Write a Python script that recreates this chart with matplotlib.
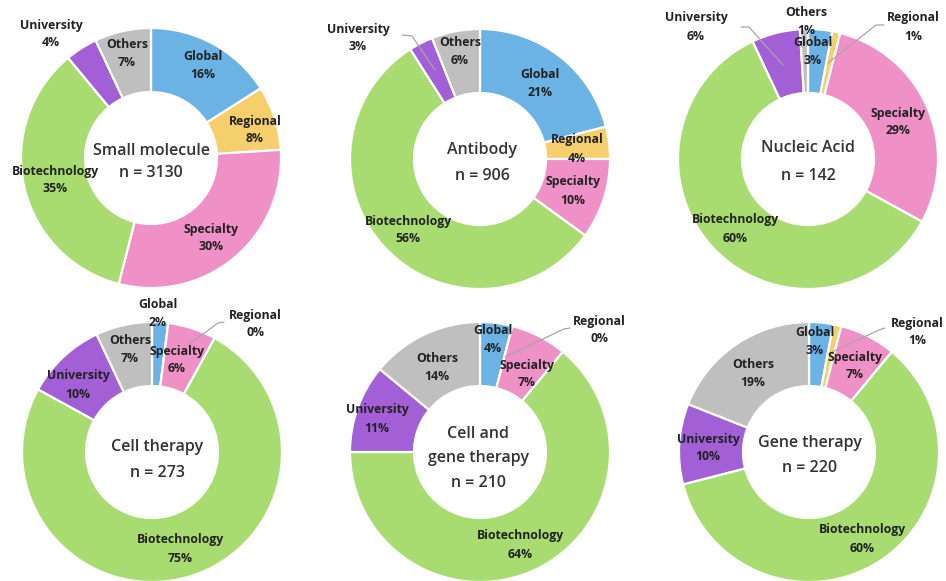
import numpy as np
import matplotlib
matplotlib.use("Agg")
import matplotlib.pyplot as plt

# ---- data -------------------------------------------------------------
categories = ["Global", "Regional", "Specialty", "Biotechnology", "University", "Others"]
colors = ["#6cb3e5", "#f4cf6b", "#ef91c6", "#a8dc70", "#a25fd6", "#bfbfbf"]

titles = ["Small molecule", "Antibody", "Nucleic Acid",
          "Cell therapy", "Cell and\ngene therapy", "Gene therapy"]
counts = [3130, 906, 142, 273, 210, 220]

small_molecule = [16, 8, 30, 35, 4, 7]
antibody = [21, 4, 10, 56, 3, 6]
nucleic_acid = [3, 1, 29, 60, 6, 1]
cell_therapy = [2, 0, 6, 75, 10, 7]
cell_gene_therapy = [4, 0, 7, 64, 11, 14]
gene_therapy = [3, 1, 7, 60, 10, 19]

shares = [small_molecule, antibody, nucleic_acid,
          cell_therapy, cell_gene_therapy, gene_therapy]

# ---- layout (pixel coordinates, origin top-left) ----------------------
W, H = 946, 581
centers = [(151, 158), (480, 159), (808, 159),
           (152, 452), (480, 452), (809, 452)]
R_OUT, RING = 130, 64
title_y = [(151, 173), (150, 176), (148, 176),
           (447, 473), (434, 458, 483), (443, 468)]
title_x = [151, 482, 808, 157, 478, 810]

# label block centres per chart, in category order
label_pos = [
    [(203, 66), (255, 130), (211, 238), (55, 180), (51, 34), (127, 53)],
    [(540, 84), (577, 149), (573, 191), (408, 230), (358, 38), (460, 52)],
    [(813, 52), (913, 27), (898, 122), (735, 229), (696, 27), (806, 22)],
    [(158, 314), (255, 324), (177, 360), (180, 549), (78, 385), (130, 350)],
    [(493, 340), (599, 330), (527, 374), (520, 545), (377, 419), (437, 367)],
    [(815, 342), (917, 332), (855, 366), (862, 539), (708, 448), (753, 374)],
]

# leader lines: (chart, [points])
leaders = [
    (1, [(402, 35), (412, 36), (435, 70)]),
    (2, [(741, 27), (749, 27), (783, 65)]),
    (2, [(884, 25), (876, 25), (828, 63)]),
    (3, [(224, 322), (218, 323), (188, 345)]),
    (4, [(570, 328), (564, 329), (505, 357)]),
    (5, [(885, 328), (879, 330), (832, 352)]),
]

plt.rcParams["font.family"] = ["Open Sans", "DejaVu Sans"]
TEXT = "#222222"

fig = plt.figure(figsize=(W / 100, H / 100), dpi=100)
ax = fig.add_axes([0, 0, 1, 1])

for i, vals in enumerate(shares):
    cx, cy = centers[i]
    ax.pie(vals, colors=colors, startangle=90, counterclock=False,
           radius=R_OUT, center=(cx, H - cy),
           wedgeprops=dict(width=RING, edgecolor="white", linewidth=1.6))

    # centre caption
    lines = titles[i].split("\n") + [f"n = {counts[i]}"]
    for txt, ty in zip(lines, title_y[i]):
        ax.text(title_x[i], H - ty, txt, ha="center", va="center",
                fontsize=11.5, fontweight=600, color="#333333")

    # segment labels
    for j, (name, v) in enumerate(zip(categories, vals)):
        lx, ly = label_pos[i][j]
        ax.text(lx, H - ly + 9, name, ha="center", va="center",
                fontsize=8.8, fontweight="bold", color=TEXT)
        ax.text(lx, H - ly - 9, f"{v}%", ha="center", va="center",
                fontsize=8.8, fontweight="bold", color=TEXT)

for _, pts in leaders:
    xs = [p[0] for p in pts]
    ys = [H - p[1] for p in pts]
    ax.plot(xs, ys, color="#a6a6a6", lw=0.9, solid_capstyle="round")

ax.set_xlim(0, W)
ax.set_ylim(0, H)
ax.set_aspect("equal")
ax.axis("off")

fig.savefig("out.png", dpi=100, facecolor="white")
